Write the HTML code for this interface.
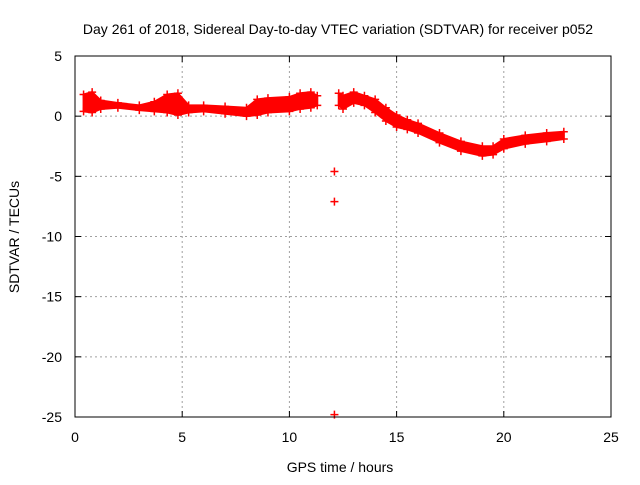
<!DOCTYPE html>
<html><head><meta charset="utf-8"><style>
body{margin:0;background:#fff}
svg text{font-family:"Liberation Sans",sans-serif;font-size:14px;fill:#000}
</style></head><body>
<svg id="c" width="640" height="480">
<text x="338" y="34" text-anchor="middle">Day 261 of 2018, Sidereal Day-to-day VTEC variation (SDTVAR) for receiver p052</text>
<text x="340" y="472" text-anchor="middle">GPS time / hours</text>
<text transform="translate(19,237) rotate(-90)" text-anchor="middle">SDTVAR / TECUs</text>
<g id="grid"></g><g id="data"></g>
<rect x="75" y="56" width="536" height="361" fill="none" stroke="#000"/>
</svg>
<script>
const xTicks=[0,5,10,15,20,25];
const yTicks=[5,0,-5,-10,-15,-20,-25];
const times=[0.4,0.8,1.2,2,3,3.7,4.3,4.8,5.3,6,7,8,8.5,9,10,10.5,11,11.3];
const hiA=[1.8,2.0,1.3,1.1,0.9,1.2,1.8,1.9,0.9,0.9,0.8,0.7,1.4,1.5,1.6,1.9,2.0,1.7];
const loA=[0.4,0.3,0.6,0.7,0.5,0.4,0.3,0.1,0.3,0.4,0.2,0.0,0.1,0.3,0.4,0.6,0.7,0.9];
const times2=[12.3,12.5,13,13.5,14,14.5,15,15.5,16,17,18,19,19.5,20,21,22,22.8];
const hiB=[1.9,1.7,2.0,1.7,1.4,0.7,0.1,-0.3,-0.6,-1.4,-2.1,-2.5,-2.5,-1.9,-1.6,-1.4,-1.3];
const loB=[0.9,0.6,1.1,0.9,0.3,-0.4,-0.9,-1.1,-1.4,-2.2,-2.9,-3.3,-3.2,-2.7,-2.3,-2.1,-1.9];
const outT=[12.1,12.1,12.1];
const outV=[-4.6,-7.1,-24.8];
const X=t=>75+t*536/25, Y=v=>56+(5-v)*361/30;
const NS="http://www.w3.org/2000/svg";
const g=document.getElementById('grid'), d=document.getElementById('data');
function mk(tag,a,p){const e=document.createElementNS(NS,tag);for(const k in a)e.setAttribute(k,a[k]);p.appendChild(e);return e;}
xTicks.forEach(t=>{
 if(t>0&&t<25){const l=mk('line',{x1:X(t),x2:X(t),y1:56,y2:417,stroke:'#a0a0a0','stroke-dasharray':'2,3'},g);
 
 }
 mk('line',{x1:X(t),x2:X(t),y1:417,y2:411,stroke:'#000'},g);
 mk('line',{x1:X(t),x2:X(t),y1:56,y2:62,stroke:'#000'},g);
 const tx=mk('text',{x:X(t),y:442,'text-anchor':'middle'},g);tx.textContent=t;
 
 
});
yTicks.forEach(v=>{
 if(v>-25&&v<5){const l=mk('line',{x1:75,x2:611,y1:Y(v),y2:Y(v),stroke:'#a0a0a0','stroke-dasharray':'2,3'},g);
 
 }
 mk('line',{x1:75,x2:81,y1:Y(v),y2:Y(v),stroke:'#000'},g);
 mk('line',{x1:611,x2:605,y1:Y(v),y2:Y(v),stroke:'#000'},g);
 const tx=mk('text',{x:62,y:Y(v)+5,'text-anchor':'end'},g);tx.textContent=v;
 
 
});
function plus(t,v){const p=mk('path',{d:`M${X(t)-4},${Y(v)}h8M${X(t)},${Y(v)-4}v8`,stroke:'#f00','stroke-width':1.5},d);
 
 }
function band(ts,hi,lo){
 let pts=ts.map((t,i)=>X(t)+','+Y(hi[i]));
 pts=pts.concat(ts.map((t,i)=>X(t)+','+Y(lo[i])).reverse());
 const p=mk('polygon',{points:pts.join(' '),fill:'#f00',stroke:'#f00','stroke-width':2,'stroke-linejoin':'round'},d);
 
 
 ts.forEach((t,i)=>{plus(t,hi[i]);plus(t,lo[i]);});
}
band(times,hiA,loA);band(times2,hiB,loB);
outT.forEach((t,i)=>plus(t,outV[i]));
</script>
</body></html>
